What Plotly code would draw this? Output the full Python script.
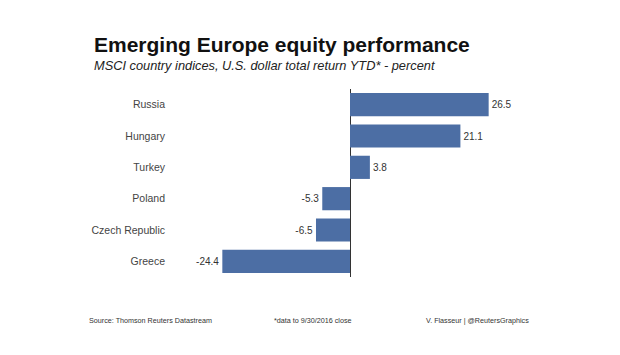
import plotly.graph_objects as go

countries = ["Russia", "Hungary", "Turkey", "Poland", "Czech Republic", "Greece"]
returns = [26.5, 21.1, 3.8, -5.3, -6.5, -24.4]
value_labels = ["26.5", "21.1", "3.8", "-5.3", "-6.5", "-24.4"]

title_text = "Emerging Europe equity performance"
subtitle_text = "MSCI country indices, U.S. dollar total return YTD* - percent"
footer_source = "Source: Thomson Reuters Datastream"
footer_note = "*data to 9/30/2016 close"
footer_credit = "V. Flasseur | @ReutersGraphics"

OFF = 8  # default page body margin
W, H = 620 - OFF, 355 - OFF
L, T = 170 - OFF, 89 - OFF
pw, ph = 360, 188
R = W - L - pw
B = H - T - ph

def px(x_page):
    return (x_page - OFF - L) / pw

def py(y_page):
    return (T + ph - (y_page - OFF)) / ph

FONT = "Liberation Sans, Arial, sans-serif"

fig = go.Figure(go.Bar(
    x=returns,
    y=countries,
    orientation="h",
    marker=dict(color="#4c6ea4", line=dict(width=0)),
    text=value_labels,
    textposition="outside",
    textfont=dict(family=FONT, size=10, color="#333333"),
    cliponaxis=False,
    width=0.74,
))

fig.update_layout(
    width=W, height=H,
    margin=dict(l=L, r=R, t=T, b=B),
    paper_bgcolor="white",
    plot_bgcolor="white",
    showlegend=False,
    font=dict(family=FONT),
    xaxis=dict(
        range=[-34.4, 34.4],
        showgrid=False,
        showticklabels=False,
        ticks="",
        zeroline=True,
        zerolinecolor="#333333",
        zerolinewidth=1,
        showline=False,
        fixedrange=True,
    ),
    yaxis=dict(
        categoryorder="array",
        categoryarray=countries[::-1],
        showgrid=False,
        ticks="",
        showline=False,
        zeroline=False,
        tickfont=dict(family=FONT, size=10.5, color="#444444"),
        ticklabelstandoff=4,
        fixedrange=True,
    ),
    annotations=[
        dict(text="<b>" + title_text + "</b>", xref="paper", yref="paper",
             x=px(92), y=py(44), xanchor="left", yanchor="middle", showarrow=False,
             font=dict(family=FONT, size=21, color="#111111")),
        dict(text="<i>" + subtitle_text + "</i>", xref="paper", yref="paper",
             x=px(92), y=py(66), xanchor="left", yanchor="middle", showarrow=False,
             font=dict(family=FONT, size=12.8, color="#222222")),
        dict(text=footer_source, xref="paper", yref="paper",
             x=px(87), y=py(320), xanchor="left", yanchor="middle", showarrow=False,
             font=dict(family=FONT, size=7.2, color="#333333")),
        dict(text=footer_note, xref="paper", yref="paper",
             x=px(272), y=py(320), xanchor="left", yanchor="middle", showarrow=False,
             font=dict(family=FONT, size=7.2, color="#333333")),
        dict(text=footer_credit, xref="paper", yref="paper",
             x=px(424), y=py(320), xanchor="left", yanchor="middle", showarrow=False,
             font=dict(family=FONT, size=7.2, color="#333333")),
    ],
)

fig.write_html("out.html", config={"displayModeBar": False})
